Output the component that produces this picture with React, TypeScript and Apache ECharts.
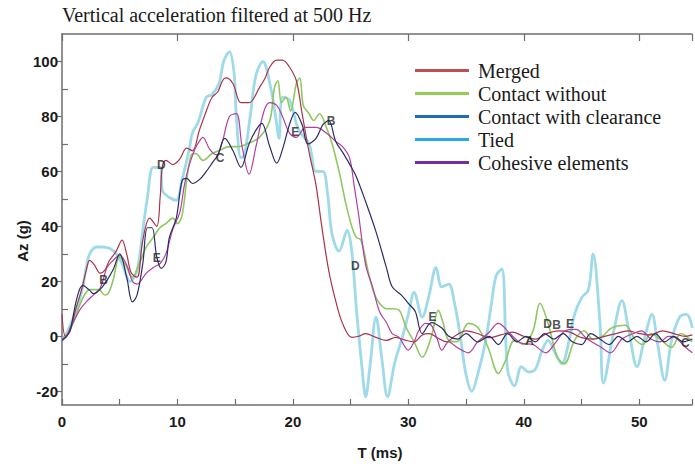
import React, { useEffect, useRef } from "react";
import * as echarts from "echarts";

// ---- data (T in ms, Az in g) ----
const tied: [number, number][] = [
  [0,-1.5],[0.5,2],[1,7],[1.5,13],[1.8,18],[2.1,25],[2.4,30],[3,32.5],[3.5,32.5],[4.1,32],[4.7,30],[5.2,26.5],[5.9,20],[6.5,24],[7,38.5],[7.4,50.5],[7.9,61.5],[8.5,61.5],[8.7,53],[9.3,50.5],[9.9,49.5],[10.4,57],[11,67.5],[11.3,74],[11.8,78],[12.5,87],[13,88],[13.6,92],[14,100],[14.5,103.5],[14.9,96],[15.1,80],[15.5,65],[15.8,66],[16.3,80],[16.8,95],[17.4,100],[18,92],[18.5,80],[18.8,72],[19.1,87],[19.7,86],[20.5,75],[21.4,70],[22,60],[22.6,60],[23,52],[23.4,37],[24,31],[24.7,38.5],[25.1,31],[25.5,10],[26,-12],[26.3,-22],[26.7,-10],[27.2,7],[27.7,-8],[28.2,-22],[28.8,-10],[29.5,0],[30,8],[30.5,16],[31.2,7],[31.8,15],[32.4,25],[32.9,18],[33.5,19],[34,12],[34.5,0],[35,-14],[35.5,-20],[36,-14],[36.7,-1.5],[37.2,12],[37.6,22],[38.1,24.5],[38.6,-12.4],[39.2,-18],[39.8,-11],[40.4,-13],[41,-12],[41.6,-5],[42.1,-1.5],[42.7,-6],[43.3,-10],[43.9,-2],[44.4,8],[45,14],[45.6,17],[46,30],[46.6,4.7],[46.9,-17],[47.8,2],[48.5,13],[49.1,2],[49.8,-11],[50.5,0],[51.1,8],[51.6,-3],[52.2,-16],[52.8,-1.5],[53.5,7],[54.1,8],[54.6,3]
];
const merged: [number, number][] = [
  [0,8],[0.3,0],[0.7,2],[1.2,10],[1.7,17],[2.1,24],[2.4,27.6],[2.8,26],[3.3,23],[3.7,24],[4.1,27.5],[4.7,31],[5.2,35],[5.6,30],[6,23],[6.5,21.5],[7,35],[7.6,43],[8.2,40],[8.5,50.5],[8.7,62],[9,64],[9.6,62.5],[10.2,64.5],[10.8,68.5],[11.3,67.5],[11.9,75],[12.5,82],[13,87],[13.5,89],[13.9,93],[14.2,94],[14.8,92],[15.5,85],[16.2,85],[17.1,90.5],[17.6,94],[18,98],[18.6,100.5],[19.1,100.5],[19.7,98],[20.3,93],[20.8,81],[21.4,67],[22,55],[22.5,40],[23.1,24],[23.7,13],[24.3,4.7],[25.1,-0.4],[25.7,0],[26.3,1],[27.2,-0.4],[28.1,-1.5],[28.9,-0.4],[29.8,-1.5],[30.5,-2],[31.2,0.5],[31.8,1],[32.5,-0.5],[33.3,-2],[34,0],[35,2],[36,1],[37,-0.5],[38,0.5],[39,1.5],[40,0],[41,-1],[42,1],[43,2],[44,1.5],[45,-0.5],[46,-1],[47,0],[48,1],[49,2],[50,1],[51,0.5],[52,2],[53,1],[54,0],[54.6,0.5]
];
const contactWithout: [number, number][] = [
  [0,-1],[0.5,1],[1,5],[1.6,12],[2.4,17],[3.2,17],[3.7,15],[4,15.5],[4.4,20],[5,29],[5.5,26],[6.1,21.5],[6.7,26.5],[7.3,32.5],[7.9,36],[8.5,39.6],[9,41],[9.6,43],[10,41],[10.4,44],[10.8,56.7],[11.2,66],[11.6,66.5],[12.2,64],[13,66.5],[13.6,67.6],[14.5,69],[15.3,69],[16,70],[17.1,72.4],[18,78.5],[18.4,90.5],[18.7,93],[19,85],[19.4,87],[19.8,82],[20.3,92],[20.6,94],[20.9,84],[21.4,81],[21.8,78.5],[22.3,81],[22.9,76],[23.4,70],[24,60],[24.6,48],[25.1,40],[25.5,36],[25.9,35],[26.5,24],[27,16],[27.5,12],[28.1,10],[28.6,10],[29.2,9.5],[29.8,3.3],[30.5,-2],[31.2,-7.6],[32,0],[32.6,9.5],[33,5],[33.5,-1.5],[34.2,-2],[35.2,4.7],[36,3.3],[36.9,-4],[37.8,-13.5],[38.4,-9],[39.2,-1.5],[40,-3],[40.8,2],[41.4,12],[42.1,4.7],[42.9,-7.6],[43.5,-10],[44.4,-1.5],[45.2,2],[46,-1],[46.8,0],[47.6,3],[48.8,4],[49.6,-1],[50.3,-3],[51,1],[51.8,-1],[52.8,-4],[53.6,1],[54.6,-2]
];
const contactClearance: [number, number][] = [
  [0,-1.5],[0.4,0],[0.7,2],[1.3,14],[1.8,18.5],[2.4,16.7],[2.7,15.5],[3.5,18],[4.4,24],[5,30],[5.6,21.5],[6.1,12.5],[6.5,15],[7,26.5],[7.4,39.5],[7.8,39.5],[8.2,29],[8.6,24.7],[9,27],[9.3,36],[9.9,43],[10.4,56.7],[10.8,57.5],[11.3,55.6],[11.9,57],[12.5,60],[13,63],[13.5,66],[14.1,72],[14.8,67.6],[15.5,61.5],[16.2,70],[16.8,75],[17.3,77.5],[18,69],[18.6,63],[19.1,68],[19.7,77],[20.2,81.5],[20.8,77],[21.3,70],[22,72],[22.6,77],[23.1,78.5],[23.7,71],[24.3,67],[25,62],[25.5,58],[26.3,49],[27.2,38],[28.1,25],[28.6,18],[29.4,15],[30,12],[30.6,9],[31.2,1],[32,5],[32.9,3],[33.5,0],[34.3,-1],[35,1],[36,-2],[37,0],[37.8,-3],[38.6,1],[39.4,-2],[40.2,0],[41,-2],[41.8,1],[42.6,-1],[43.4,1],[44.2,-2],[45,-3],[45.8,1],[46.6,-1],[47.4,-3],[48.2,0],[49,-2],[49.8,0],[50.6,-2],[51.4,1],[52.2,-2],[53,0],[53.8,-2],[54.6,-1]
];
const cohesive: [number, number][] = [
  [0,-1],[0.4,0],[0.7,3],[1.2,7],[1.6,10],[2.2,13],[2.7,15],[3.3,17.5],[3.9,25],[4.4,27.5],[5,29.5],[5.6,26],[6.1,20],[6.5,19],[7.3,23],[7.9,25],[8.5,26.5],[9,30],[9.6,39],[10.2,45],[10.6,55],[11,62],[11.5,68],[11.9,71],[12.2,72.4],[12.8,68],[13.4,66],[13.9,71],[14.5,80],[15.1,81],[15.6,69],[16.2,59],[16.8,69],[17.5,82],[18,85],[18.6,84],[19.1,80],[19.7,74],[20.3,72.4],[21.1,76],[22,76],[22.9,74],[23.7,71],[24.3,69],[24.9,65],[25.3,55],[25.7,44],[26.3,26],[26.9,18],[27.5,9],[28.1,5],[28.6,1],[29.2,-0.4],[30,-5],[30.5,-2],[30.9,2],[31.5,4.7],[32,4],[32.5,-1],[32.9,-5],[33.5,-2],[34.2,-4],[35.2,-6],[36,-2],[36.9,1],[37.8,4.7],[38.8,1],[39.8,-2.5],[40.8,-3],[41.9,-6],[42.8,-2],[43.6,2],[44.5,2.5],[45.5,-1],[46.7,-4],[47.5,-6],[48.5,-1],[49.5,1],[50.2,2],[51,-1],[51.8,-2],[52.5,0],[53.1,-0.4],[54,-4],[54.6,-6]
];

const markLetters = ["B", "E", "D", "C", "E", "B", "D", "E", "D", "B", "E", "A", "C"];
const markT = [3.6, 8.2, 8.6, 13.7, 20.2, 23.3, 25.4, 32.1, 42.05, 42.85, 44.0, 40.5, 54.0];
const markG = [20.4, 28.4, 62.5, 65, 74.5, 78.2, 25.5, 6.9, 4.4, 4.0, 4.4, -1.8, -2.5];

const yLabelValues = [-20, 0, 20, 40, 60, 80, 100];
const yMinorValues = [-10, 10, 30, 50, 70, 90];

const seriesNames = ["Merged", "Contact without", "Contact with clearance", "Tied", "Cohesive elements"];
const legendColors = ["#c0504d", "#92cf50", "#1f6cb4", "#2aaae2", "#7030a0"];

const X_MIN = 0;
const X_MAX = 54.57;
const Y_MIN = -25;
const Y_MAX = 110;

export default function App() {
  const ref = useRef<HTMLDivElement>(null);
  useEffect(() => {
    if (!ref.current) return;
    const chart = echarts.init(ref.current, undefined, { renderer: "svg" });
    const sans = '"Liberation Sans", Arial, sans-serif';
    const serif = '"Liberation Serif", "Times New Roman", serif';
    const axisColor = "#6e6e6e";
    const lineSeries = (name: string, data: [number, number][], color: string, width: number, opacity = 1) => ({
      name,
      type: "line",
      data,
      smooth: 0.35,
      showSymbol: false,
      symbol: "none",
      lineStyle: { color, width, opacity },
      itemStyle: { color },
      z: 2,
    });
    chart.setOption({
      animation: false,
      backgroundColor: "#ffffff",
      grid: { left: 62, top: 34, right: 0, bottom: 59, containLabel: false },
      xAxis: [
        {
          type: "value",
          min: X_MIN,
          max: X_MAX,
          interval: 5,
          position: "bottom",
          axisLine: { show: true, onZero: false, lineStyle: { color: axisColor, width: 1.5 } },
          axisTick: { show: true, inside: true, length: 6, lineStyle: { color: axisColor, width: 1.2 } },
          axisLabel: {
            show: true,
            margin: 9,
            color: "#1a1a1a",
            fontFamily: sans,
            fontWeight: "bold",
            fontSize: 15,
            formatter: (v: number) => (Math.round(v) % 10 === 0 ? String(Math.round(v)) : ""),
          },
          splitLine: { show: false },
        },
        {
          type: "value",
          min: X_MIN,
          max: X_MAX,
          interval: 10,
          position: "top",
          axisLine: { show: true, onZero: false, lineStyle: { color: axisColor, width: 1.5 } },
          axisTick: { show: true, inside: true, length: 7, lineStyle: { color: axisColor, width: 1.2 } },
          axisLabel: { show: false },
          splitLine: { show: false },
        },
      ],
      yAxis: [
        {
          type: "value",
          min: Y_MIN,
          max: Y_MAX,
          position: "left",
          axisLine: { show: true, onZero: false, lineStyle: { color: axisColor, width: 1.5 } },
          axisTick: {
            show: true,
            inside: false,
            length: 6,
            customValues: yLabelValues,
            lineStyle: { color: axisColor, width: 1.2 },
          },
          axisLabel: {
            show: true,
            customValues: yLabelValues,
            margin: 4,
            color: "#1a1a1a",
            fontFamily: sans,
            fontWeight: "bold",
            fontSize: 15,
          },
          splitLine: { show: false },
        },
        {
          type: "value",
          min: Y_MIN,
          max: Y_MAX,
          position: "left",
          offset: 0,
          axisLine: { show: false, onZero: false },
          axisTick: {
            show: true,
            inside: true,
            length: 6,
            customValues: yMinorValues,
            lineStyle: { color: axisColor, width: 1.2 },
          },
          axisLabel: { show: false },
          splitLine: { show: false },
        },
      ],
      legend: {
        orient: "vertical",
        left: 415,
        top: 60,
        itemWidth: 54,
        itemHeight: 3,
        itemGap: 2,
        icon: "rect",
        backgroundColor: "rgba(255,255,255,0)",
        padding: 0,
        textStyle: {
          fontFamily: serif,
          fontSize: 20,
          lineHeight: 21,
          color: "#1a1a1a",
          padding: [0, 0, 0, 4],
        },
        data: seriesNames.map((n, i) => ({ name: n, icon: "rect", itemStyle: { color: legendColors[i] } })),
      },
      graphic: [
        {
          type: "text",
          left: 62,
          top: 5,
          style: {
            text: "Vertical acceleration filtered at 500 Hz",
            font: `20px ${serif}`,
            fill: "#1a1a1a",
          },
        },
        {
          type: "text",
          x: 22,
          y: 241,
          rotation: Math.PI / 2,
          style: {
            text: "Az (g)",
            font: `bold 15px ${sans}`,
            fill: "#1a1a1a",
            textAlign: "center",
            textVerticalAlign: "middle",
          },
        },
        {
          type: "text",
          x: 380,
          y: 452,
          style: {
            text: "T (ms)",
            font: `bold 15px ${sans}`,
            fill: "#1a1a1a",
            textAlign: "center",
            textVerticalAlign: "middle",
          },
        },
      ],
      series: [
        lineSeries("Tied", tied, "#8dd4e4", 2.8, 0.85),
        lineSeries("Contact without", contactWithout, "#8fc862", 1.6),
        lineSeries("Merged", merged, "#a8344a", 1.2),
        lineSeries("Cohesive elements", cohesive, "#b13f9f", 1.2),
        lineSeries("Contact with clearance", contactClearance, "#2c2c66", 1.2),
        {
          name: "labels",
          type: "scatter",
          symbolSize: 0,
          data: markLetters.map((l, i) => ({ name: l, value: [markT[i], markG[i]] })),
          label: {
            show: true,
            position: "inside",
            formatter: (p: any) => p.name,
            fontFamily: sans,
            fontWeight: "bold",
            fontSize: 12,
            color: "#222222",
          },
          z: 5,
          silent: true,
        },
      ],
    });
    return () => chart.dispose();
  }, []);
  return (
    <div
      ref={ref}
      style={{ position: "absolute", left: 0, top: 0, width: 695, height: 464 }}
    />
  );
}
